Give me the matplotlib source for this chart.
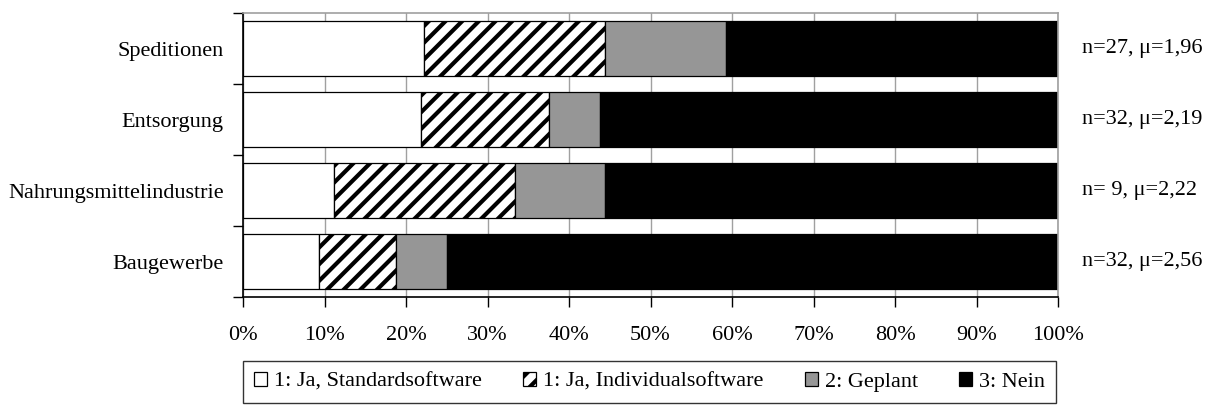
import numpy as np
import matplotlib.pyplot as plt
from matplotlib.patches import Patch

plt.rcParams['font.family'] = ['Liberation Serif', 'DejaVu Serif']
plt.rcParams['font.size'] = 16
plt.rcParams['hatch.linewidth'] = 3.0

branchen = ['Speditionen', 'Entsorgung', 'Nahrungsmittelindustrie', 'Baugewerbe']
# Anzahl Nennungen je Antwortkategorie
standard = [6, 7, 1, 3]
individual = [6, 5, 2, 3]
geplant = [4, 2, 1, 2]
nein = [11, 18, 5, 24]
mittelwert = [1.96, 2.19, 2.22, 2.56]

kategorien = ['1: Ja, Standardsoftware', '1: Ja, Individualsoftware', '2: Geplant', '3: Nein']
farben = ['white', 'white', '#969696', 'black']
muster = ['', '//', '', '']

counts = np.array([standard, individual, geplant, nein], dtype=float)
n = counts.sum(axis=0)
anteile = counts / n * 100

fig = plt.figure(figsize=(12.2, 4.08), dpi=100)
ax = fig.add_axes([243 / 1220, 111 / 408, 815 / 1220, 284 / 408])

y = np.arange(len(branchen))
left = np.zeros(len(branchen))
for i in range(4):
    ax.barh(y, anteile[i], left=left, height=0.775, color=farben[i],
            hatch=muster[i], edgecolor='black', linewidth=0.9, zorder=2)
    left += anteile[i]

for yi, ni, mu in zip(y, n, mittelwert):
    ax.text(1.03, yi, f"n={int(ni):2d}, \u03bc={mu:.2f}".replace('.', ','),
            transform=ax.get_yaxis_transform(), va='center', ha='left')

ax.set_xlim(0, 100)
ax.set_ylim(3.5, -0.5)
ax.set_xticks(np.arange(0, 101, 10))
ax.set_xticklabels([f"{v}%" for v in range(0, 101, 10)])
ax.tick_params(axis='x', direction='out', length=7, width=1, pad=14)
ax.xaxis.grid(True, color='#a0a0a0', linewidth=1, zorder=0)
ax.set_axisbelow(True)

ax.set_yticks(np.arange(-0.5, 4, 1))
ax.set_yticklabels([])
ax.set_yticks(y, minor=True)
ax.set_yticklabels(branchen, minor=True)
ax.tick_params(axis='y', which='major', direction='out', length=7, width=1)
ax.tick_params(axis='y', which='minor', length=0, pad=14)

for s in ['left', 'bottom']:
    ax.spines[s].set_color('black')
    ax.spines[s].set_linewidth(1.2)
for s in ['top', 'right']:
    ax.spines[s].set_color('#a0a0a0')
    ax.spines[s].set_linewidth(1.2)

handles = [Patch(facecolor=farben[i], edgecolor='black', hatch=muster[i], linewidth=0.9)
           for i in range(4)]
leg = fig.legend(handles, kategorien, ncol=4, loc='center',
                 bbox_to_anchor=(649.5 / 1220, 1 - 382 / 408),
                 frameon=True, fancybox=False, edgecolor='black',
                 handlelength=0.6, handleheight=0.6, handletextpad=0.3,
                 columnspacing=1.85, borderpad=0.5)
leg.get_frame().set_linewidth(1.0)

fig.savefig('out.png', dpi=100)
